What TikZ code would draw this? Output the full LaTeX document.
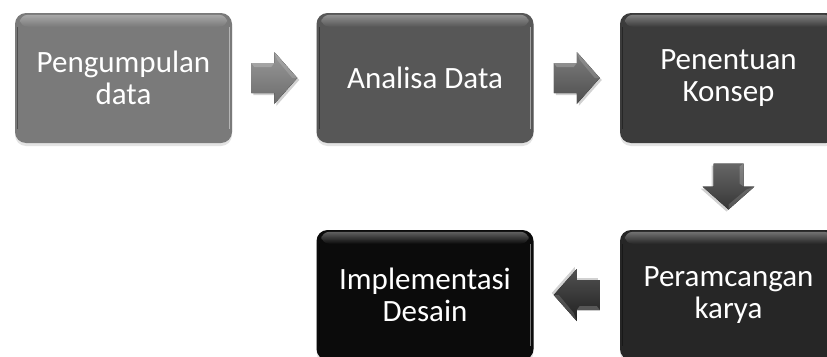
\documentclass[tikz,border=0pt]{standalone}
\usepackage{fontspec}
\setmainfont{Carlito}
\usetikzlibrary{calc,fadings,shadows}

\definecolor{stepA}{HTML}{7A7A7A}
\definecolor{stepB}{HTML}{575757}
\definecolor{stepC}{HTML}{3B3B3B}
\definecolor{stepD}{HTML}{262626}
\definecolor{stepE}{HTML}{0B0B0B}
\definecolor{arrA}{HTML}{7F7F7F}
\definecolor{arrB}{HTML}{5C5C5C}
\definecolor{arrC}{HTML}{404040}
\definecolor{arrD}{HTML}{262626}

\tikzset{
  stagebox/.style={minimum width=217pt, minimum height=130pt, rounded corners=11pt,
    fill=#1, text=white, align=center, inner sep=0pt,
    font=\fontsize{31}{32}\selectfont,
    drop shadow={opacity=.22, shadow xshift=0pt, shadow yshift=-3pt}},
  rimlight/.style={white, opacity=.35, path fading=south},
}

% glossy bevel on a stage box
\newcommand\stagebevel[1]{%
  \fill[rimlight, rounded corners=8pt]
    ($(#1.north west)+(5,2)$) rectangle ($(#1.north east)+(-5,14)$);
  \draw[white, opacity=.45, line width=1.2pt]
    ($(#1.north east)+(-3,14)$) -- ($(#1.south east)+(-3,-14)$);
  \draw[black, opacity=.35, line width=1.2pt]
    ($(#1.north west)+(3,14)$) -- ($(#1.south west)+(3,-14)$);
}

% block arrow half way between two stage boxes
\newcommand\flowarrow[4]{%
  \begin{scope}[shift={($(#1)!0.5!(#2)$)}, rotate=#3]
    \fill[black, opacity=.18] (-21,-13) -- (2,-13) -- (2,-24) -- (25,2) -- (2,28) -- (2,17) -- (-21,17) -- cycle;
    \fill[top color=#4!80!white, bottom color=#4!85!black]
      (-23,-15) -- (0,-15) -- (0,-26) -- (23,0) -- (0,26) -- (0,15) -- (-23,15) -- cycle;
    \fill[white, opacity=.2] (-23,-15) -- (0,-15) -- (-3,-11) -- (-20,-11) -- cycle;
    \fill[white, opacity=.15] (0,-26) -- (23,0) -- (18,0) -- (3,-18) -- cycle;
  \end{scope}}

\begin{document}
\begin{tikzpicture}[x=1pt, y=-1pt]
  \useasboundingbox (0,0) rectangle (827,356);
  \fill[white] (0,0) rectangle (827,356);
  \clip (0,0) rectangle (827,356);

  \node[stagebox=stepA] (s1) at (123.5,78) {Pengumpulan\\data};
  \node[stagebox=stepB] (s2) at (425,78) {Analisa Data};
  \node[stagebox=stepC] (s3) at (728.5,78) {Penentuan\\Konsep};
  \node[stagebox=stepD] (s4) at (728.5,295) {Peramcangan\\karya};
  \node[stagebox=stepE] (s5) at (425,295) {Implementasi\\Desain};

  \stagebevel{s1}
  \stagebevel{s2}
  \stagebevel{s3}
  \stagebevel{s4}
  \stagebevel{s5}

  \flowarrow{s1.east}{s2.west}{0}{arrA}
  \flowarrow{s2.east}{s3.west}{0}{arrB}
  \flowarrow{s3.south}{s4.north}{-90}{arrC}
  \flowarrow{s4.west}{s5.east}{180}{arrD}
\end{tikzpicture}
\end{document}
